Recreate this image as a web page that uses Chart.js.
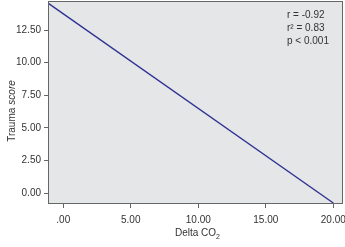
<!DOCTYPE html>
<html>
<head>
<meta charset="utf-8">
<script src="https://cdn.jsdelivr.net/npm/chart.js@4"></script>
<style>
  html, body { margin: 0; padding: 0; background: #fff; }
  #wrap { width: 345px; height: 247px; position: relative; }
</style>
</head>
<body>
<div id="wrap"><canvas id="traumaChart"></canvas></div>
<script>
// Đường hồi quy (điểm đầu/cuối)
const lineX = [-1.13, 20.0];
const lineY = [14.56, -0.74];

// Vạch chia trục
const xTicks = [0, 5, 10, 15, 20];
const xTickLabels = ['.00', '5.00', '10.00', '15.00', '20.00'];
const yTicks = [0, 2.5, 5, 7.5, 10, 12.5];
const yTickLabels = ['0.00', '2.50', '5.00', '7.50', '10.00', '12.50'];

// Chữ thống kê góc phải
const statLines = ['r = -0.92', 'r\u00B2 = 0.83', 'p < 0.001'];

const FONT = '"Liberation Sans", Arial, Helvetica, sans-serif';
const TXT = '#333';
const AXIS = '#666';

// Nền xám, khung, tiêu đề trục và chữ thống kê
const decor = {
    id: 'decor',
    beforeDraw(chart) {
        const a = chart.chartArea, ctx = chart.ctx;
        ctx.save();
        ctx.fillStyle = '#e5e6e8';
        ctx.fillRect(a.left, a.top, a.right - a.left, a.bottom - a.top);
        ctx.restore();
    },
    afterDraw(chart) {
        const a = chart.chartArea, ctx = chart.ctx;
        ctx.save();
        ctx.strokeStyle = AXIS;
        ctx.lineWidth = 1;
        ctx.strokeRect(a.left + 0.5, a.top + 0.5, a.right - a.left - 1, a.bottom - a.top - 1);

        ctx.fillStyle = TXT;
        ctx.textBaseline = 'middle';

        // tiêu đề trục y: "Trauma " thường + "score" nghiêng
        ctx.translate(12, 111);
        ctx.rotate(-Math.PI / 2);
        ctx.font = '10px ' + FONT;
        const w1 = ctx.measureText('Trauma').width + 3;
        ctx.font = 'italic 10px ' + FONT;
        const w2 = ctx.measureText('score').width;
        const x0 = -(w1 + w2) / 2;
        ctx.textAlign = 'left';
        ctx.font = '10px ' + FONT;
        ctx.fillText('Trauma', x0, 0);
        ctx.font = 'italic 10px ' + FONT;
        ctx.fillText('score', x0 + w1, 0);
        ctx.setTransform(1, 0, 0, 1, 0, 0);

        // tiêu đề trục x: "Delta CO" + chỉ số 2
        ctx.font = '10px ' + FONT;
        const wa = ctx.measureText('Delta CO').width;
        ctx.font = '7px ' + FONT;
        const wb = ctx.measureText('2').width;
        const cx = (a.left + a.right) / 2 + 2;
        const xs = cx - (wa + wb) / 2;
        ctx.textAlign = 'left';
        ctx.font = '10px ' + FONT;
        ctx.fillText('Delta CO', xs, 233);
        ctx.font = '7px ' + FONT;
        ctx.fillText('2', xs + wa, 237);

        // chữ thống kê
        ctx.font = '10px ' + FONT;
        statLines.forEach((t, i) => ctx.fillText(t, 287, 15 + i * 13));
        ctx.restore();
    }
};

const chart = new Chart(document.getElementById('traumaChart').getContext('2d'), {
    type: 'scatter',
    data: {
        datasets: [{
            data: lineX.map((x, i) => ({ x: x, y: lineY[i] })),
            showLine: true,
            borderColor: '#2e3192',
            borderWidth: 1.4,
            pointRadius: 0,
            fill: false
        }]
    },
    options: {
        responsive: true,
        maintainAspectRatio: false,
        animation: false,
        layout: { padding: { top: 1, right: 2, left: 0, bottom: 0 } },
        plugins: { legend: { display: false }, tooltip: { enabled: false } },
        scales: {
            x: {
                type: 'linear',
                min: -1.13,
                max: 20.72,
                afterBuildTicks: s => { s.ticks = xTicks.map(v => ({ value: v })); },
                afterFit: s => { s.height = 43; s.paddingLeft = 0; s.paddingRight = 0; },
                grid: { drawOnChartArea: false, drawTicks: true, tickLength: 4, color: AXIS },
                border: { display: false },
                ticks: {
                    color: TXT,
                    font: { family: FONT, size: 10 },
                    padding: 6,
                    maxRotation: 0,
                    autoSkip: false,
                    callback: (v, i) => xTickLabels[i]
                }
            },
            y: {
                type: 'linear',
                min: -0.82,
                max: 14.72,
                afterBuildTicks: s => { s.ticks = yTicks.map(v => ({ value: v })); },
                afterFit: s => { s.width = 48; s.paddingTop = 0; s.paddingBottom = 0; },
                grid: { drawOnChartArea: false, drawTicks: true, tickLength: 4, color: AXIS },
                border: { display: false },
                ticks: {
                    color: TXT,
                    font: { family: FONT, size: 10 },
                    padding: 3,
                    autoSkip: false,
                    callback: (v, i) => yTickLabels[i]
                }
            }
        }
    },
    plugins: [decor]
});
</script>
</body>
</html>
